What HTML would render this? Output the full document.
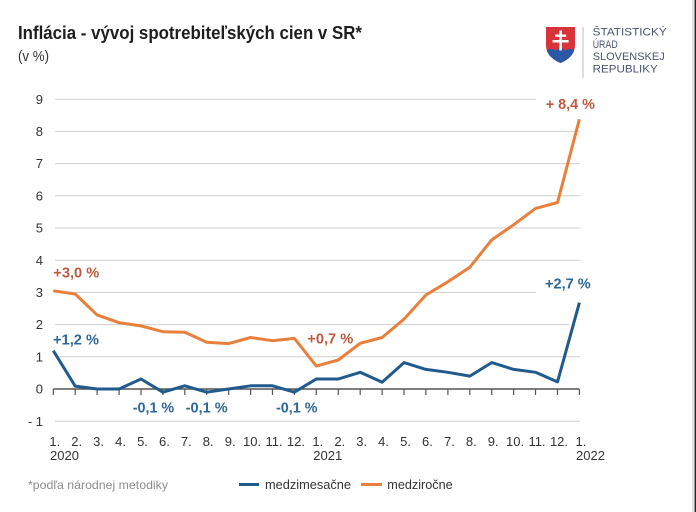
<!DOCTYPE html>
<html><head><meta charset="utf-8"><style>
html,body{margin:0;padding:0;background:#fff;}
svg{display:block;}
text{font-family:"Liberation Sans",Arial,sans-serif;}
</style></head><body>
<svg width="696" height="512" viewBox="0 0 696 512" xmlns="http://www.w3.org/2000/svg">
<rect width="696" height="512" fill="#fff"/>
<rect x="692" y="0" width="2.7" height="512" fill="#e4e4e4"/>
<rect x="694.6" y="0" width="1.4" height="512" fill="#2a2a2a"/>

<!-- title -->
<text x="18" y="39" font-size="18.6" font-weight="bold" fill="#1e1e1e" textLength="344" lengthAdjust="spacingAndGlyphs">Inflácia - vývoj spotrebiteľských cien v SR*</text>
<text x="18" y="61" font-size="15" fill="#333" textLength="31" lengthAdjust="spacingAndGlyphs">(v %)</text>

<!-- logo -->
<defs><clipPath id="sh"><path d="M546,27 H575 V45 Q575,57 560.5,63 Q546,57 546,45 Z"/></clipPath></defs>
<path d="M546,27 H575 V45 Q575,57 560.5,63 Q546,57 546,45 Z" fill="#d8323a"/>
<g clip-path="url(#sh)">
<path d="M544,53 Q550,46 555.5,51 Q560.5,45 565.5,51 Q571,46 577,53 V66 H544 Z" fill="#2a57a6"/>
</g>
<rect x="559.3" y="30.5" width="2.6" height="20" fill="#fff"/>
<rect x="555" y="34.5" width="11.2" height="2.3" fill="#fff"/>
<rect x="552.6" y="40" width="16" height="2.5" fill="#fff"/>
<line x1="583" y1="27" x2="583" y2="78" stroke="#bdbdbd" stroke-width="1"/>
<g fill="#4a5472" font-size="11">
<text x="592.7" y="35.5" textLength="74" lengthAdjust="spacingAndGlyphs">ŠTATISTICKÝ</text>
<text x="592.7" y="47.8" textLength="25" lengthAdjust="spacingAndGlyphs">ÚRAD</text>
<text x="592.7" y="60.2" textLength="72" lengthAdjust="spacingAndGlyphs">SLOVENSKEJ</text>
<text x="592.7" y="72.7" textLength="65" lengthAdjust="spacingAndGlyphs">REPUBLIKY</text>
</g>

<!-- gridlines -->
<g stroke="#cfcfcf" stroke-width="1">
<line x1="55" y1="99.2" x2="536" y2="99.2"/>
<line x1="55" y1="131.4" x2="580" y2="131.4"/>
<line x1="55" y1="163.6" x2="580" y2="163.6"/>
<line x1="55" y1="195.8" x2="580" y2="195.8"/>
<line x1="55" y1="228" x2="580" y2="228"/>
<line x1="55" y1="260.2" x2="580" y2="260.2"/>
<line x1="55" y1="292.4" x2="536" y2="292.4"/>
<line x1="55" y1="324.6" x2="569" y2="324.6"/>
<line x1="55" y1="356.8" x2="580" y2="356.8"/>
<line x1="55" y1="421.2" x2="580" y2="421.2"/>
</g>

<!-- y labels -->
<g font-size="13" fill="#333" text-anchor="end">
<text x="43" y="104">9</text>
<text x="43" y="136">8</text>
<text x="43" y="168">7</text>
<text x="43" y="200.5">6</text>
<text x="43" y="232.5">5</text>
<text x="43" y="265">4</text>
<text x="43" y="297">3</text>
<text x="43" y="329">2</text>
<text x="43" y="361.5">1</text>
<text x="43" y="393.5">0</text>
<text x="43" y="426">- 1</text>
</g>

<!-- axis -->
<line x1="53.3" y1="389" x2="579.4" y2="389" stroke="#555" stroke-width="1.5"/>
<g stroke="#555" stroke-width="1.2">
<line x1="53.3" y1="389" x2="53.3" y2="395"/><line x1="75.2" y1="389" x2="75.2" y2="395"/><line x1="97.1" y1="389" x2="97.1" y2="395"/><line x1="119.1" y1="389" x2="119.1" y2="395"/><line x1="141" y1="389" x2="141" y2="395"/><line x1="162.9" y1="389" x2="162.9" y2="395"/><line x1="184.8" y1="389" x2="184.8" y2="395"/><line x1="206.7" y1="389" x2="206.7" y2="395"/><line x1="228.7" y1="389" x2="228.7" y2="395"/><line x1="250.6" y1="389" x2="250.6" y2="395"/><line x1="272.5" y1="389" x2="272.5" y2="395"/><line x1="294.4" y1="389" x2="294.4" y2="395"/><line x1="316.3" y1="389" x2="316.3" y2="395"/><line x1="338.3" y1="389" x2="338.3" y2="395"/><line x1="360.2" y1="389" x2="360.2" y2="395"/><line x1="382.1" y1="389" x2="382.1" y2="395"/><line x1="404" y1="389" x2="404" y2="395"/><line x1="425.9" y1="389" x2="425.9" y2="395"/><line x1="447.9" y1="389" x2="447.9" y2="395"/><line x1="469.8" y1="389" x2="469.8" y2="395"/><line x1="491.7" y1="389" x2="491.7" y2="395"/><line x1="513.6" y1="389" x2="513.6" y2="395"/><line x1="535.5" y1="389" x2="535.5" y2="395"/><line x1="557.5" y1="389" x2="557.5" y2="395"/><line x1="579.4" y1="389" x2="579.4" y2="395"/>
</g>

<!-- x labels -->
<g font-size="13" fill="#333" text-anchor="middle">
<text x="54.8" y="446">1.</text><text x="76.7" y="446">2.</text><text x="98.6" y="446">3.</text><text x="120.6" y="446">4.</text><text x="142.5" y="446">5.</text><text x="164.4" y="446">6.</text><text x="186.3" y="446">7.</text><text x="208.2" y="446">8.</text><text x="230.2" y="446">9.</text><text x="252.1" y="446">10.</text><text x="274" y="446">11.</text><text x="295.9" y="446">12.</text><text x="317.8" y="446">1.</text><text x="339.8" y="446">2.</text><text x="361.7" y="446">3.</text><text x="383.6" y="446">4.</text><text x="405.5" y="446">5.</text><text x="427.4" y="446">6.</text><text x="449.4" y="446">7.</text><text x="471.3" y="446">8.</text><text x="493.2" y="446">9.</text><text x="515.1" y="446">10.</text><text x="537" y="446">11.</text><text x="559" y="446">12.</text><text x="580.9" y="446">1.</text>
</g>
<g font-size="13" fill="#333">
<text x="50" y="460">2020</text>
<text x="313.3" y="460">2021</text>
<text x="576" y="460">2022</text>
</g>

<!-- series -->
<polyline fill="none" stroke="#e8803c" stroke-width="3" stroke-linejoin="round" points="53.3,290.8 75.2,294 97.1,314.9 119.1,322.7 141,325.9 162.9,331.7 184.8,332.3 206.7,342.3 228.7,343.6 250.6,337.5 272.5,340.7 294.4,338.4 316.3,366.1 338.3,360 360.2,343.3 382.1,337.5 404,319.1 425.9,295 447.9,281.8 469.8,267.3 491.7,239.9 513.6,224.8 535.5,208.4 557.5,202.6 579.4,119.2"/>
<polyline fill="none" stroke="#215a8c" stroke-width="3" stroke-linejoin="round" points="53.3,350.7 75.2,386.1 97.1,389 119.1,389 141,379 162.9,392.2 184.8,385.8 206.7,392.2 228.7,389 250.6,385.8 272.5,385.8 294.4,392.2 316.3,379 338.3,379 360.2,372.3 382.1,382.2 404,362.6 425.9,369.4 447.9,372.3 469.8,376.1 491.7,362.6 513.6,369.4 535.5,372.3 557.5,381.9 579.4,302.7"/>

<!-- value labels -->
<g font-size="14.5" font-weight="bold">
<text x="53.3" y="277.5" fill="#bd5b40" textLength="46" lengthAdjust="spacingAndGlyphs">+3,0 %</text>
<text x="53" y="344.5" fill="#2f6896" textLength="46" lengthAdjust="spacingAndGlyphs">+1,2 %</text>
<text x="132.7" y="412.5" fill="#2f6896" textLength="41.5" lengthAdjust="spacingAndGlyphs">-0,1 %</text>
<text x="185.7" y="412.5" fill="#2f6896" textLength="42" lengthAdjust="spacingAndGlyphs">-0,1 %</text>
<text x="276" y="412.5" fill="#2f6896" textLength="41.5" lengthAdjust="spacingAndGlyphs">-0,1 %</text>
<text x="307.3" y="343.5" fill="#bd5b40" textLength="46" lengthAdjust="spacingAndGlyphs">+0,7 %</text>
<text x="545.7" y="109" fill="#bd5b40" textLength="49.3" lengthAdjust="spacingAndGlyphs">+ 8,4 %</text>
<text x="545" y="288.5" fill="#2f6896" textLength="45.7" lengthAdjust="spacingAndGlyphs">+2,7 %</text>
</g>

<!-- footer / legend -->
<text x="28" y="489" font-size="12" fill="#8c8c8c" textLength="140" lengthAdjust="spacingAndGlyphs">*podľa národnej metodiky</text>
<line x1="239" y1="484.5" x2="259" y2="484.5" stroke="#215a8c" stroke-width="3"/>
<text x="265" y="489" font-size="13" fill="#333" textLength="86" lengthAdjust="spacingAndGlyphs">medzimesačne</text>
<line x1="361" y1="484.5" x2="382" y2="484.5" stroke="#e8803c" stroke-width="3"/>
<text x="387.3" y="489" font-size="13" fill="#333" textLength="65.4" lengthAdjust="spacingAndGlyphs">medziročne</text>
</svg>
</body></html>
